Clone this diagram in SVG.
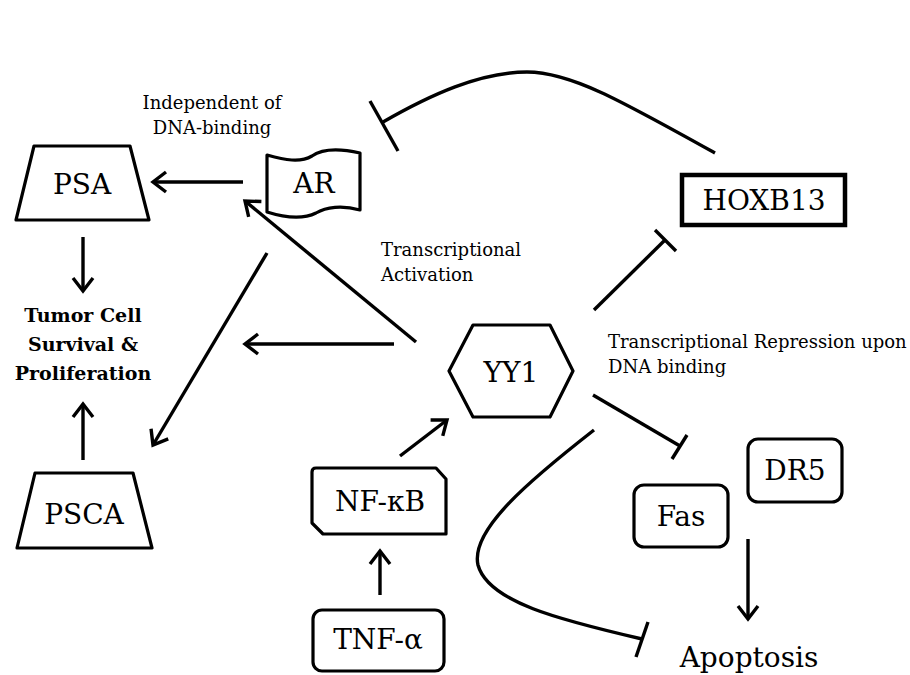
<svg xmlns="http://www.w3.org/2000/svg" width="910" height="675" viewBox="0 0 910 675">
<defs>
<style>
.node{fill:#fff;stroke:#000;stroke-width:3.2;stroke-linejoin:round}
.lbl{font-family:"DejaVu Serif","Liberation Serif",serif;font-size:28px;fill:#000;text-anchor:middle;dominant-baseline:central}
.note{font-family:"DejaVu Serif","Liberation Serif",serif;font-size:18px;fill:#000}
.bold{font-family:"DejaVu Serif","Liberation Serif",serif;font-size:19px;font-weight:bold;fill:#000;text-anchor:middle}
.edge{fill:none;stroke:#000;stroke-width:3.4}
</style>
<marker id="arr" markerUnits="userSpaceOnUse" viewBox="-16 -12 20 24" refX="0" refY="0" markerWidth="20" markerHeight="24" orient="auto" overflow="visible">
<path d="M-13,-10 L0,0 L-13,10" fill="none" stroke="#000" stroke-width="3.4" stroke-linejoin="miter"/>
</marker>
</defs>
<rect width="910" height="675" fill="#fff"/>

<g id="connectors">
<line class="edge" x1="243" y1="182" x2="153" y2="182" marker-end="url(#arr)"/>
<line class="edge" x1="416" y1="342" x2="245" y2="201" marker-end="url(#arr)"/>
<line class="edge" x1="394" y1="344" x2="245" y2="344" marker-end="url(#arr)"/>
<line class="edge" x1="267" y1="253" x2="153" y2="445" marker-end="url(#arr)"/>
<line class="edge" x1="83" y1="237" x2="83" y2="291" marker-end="url(#arr)"/>
<line class="edge" x1="83" y1="460" x2="83" y2="404" marker-end="url(#arr)"/>
<line class="edge" x1="400" y1="456" x2="447" y2="420" marker-end="url(#arr)"/>
<line class="edge" x1="380" y1="595" x2="380" y2="551" marker-end="url(#arr)"/>
<line class="edge" x1="748" y1="539" x2="748" y2="619" marker-end="url(#arr)"/>
<path class="edge" d="M715,153 C620,100 570,72 527,72 C480,72 430,95 383,122"/>
<line class="edge" x1="370" y1="101" x2="398" y2="151"/>
<line class="edge" x1="594" y1="310" x2="665" y2="240"/>
<line class="edge" x1="655" y1="230" x2="676" y2="251"/>
<line class="edge" x1="593" y1="395" x2="680" y2="446"/>
<line class="edge" x1="687" y1="435" x2="672" y2="459"/>
<path class="edge" d="M594,430 C530,480 470,530 478,565 C488,602 560,620 642,639"/>
<line class="edge" x1="648" y1="622" x2="636" y2="657"/>
</g>

<g id="psa">
<path class="node" d="M34,146 L130,146 L149,220 L16,220 Z"/>
<text class="lbl" x="82" y="184">PSA</text>
</g>

<g id="ar">
<path class="node" d="M267,155 C285,160 300,163 312,156 C322,149 338,148 360,153 L360,210 C342,205 326,207 316,213 C304,219 286,218 267,212 Z"/>
<text class="lbl" x="314" y="183">AR</text>
</g>

<g id="note-independent">
<text class="note" x="212" y="109" text-anchor="middle">Independent of</text>
<text class="note" x="212" y="134" text-anchor="middle">DNA-binding</text>
</g>

<g id="hoxb13">
<rect x="682" y="175" width="163" height="50" fill="#fff" stroke="#000" stroke-width="4.5"/>
<text class="lbl" x="764" y="200">HOXB13</text>
</g>

<g id="tumor">
<text class="bold" x="83" y="322">Tumor Cell</text>
<text class="bold" x="83" y="351">Survival &amp;</text>
<text class="bold" x="83" y="380">Proliferation</text>
</g>

<g id="note-activation">
<text class="note" x="381" y="256">Transcriptional</text>
<text class="note" x="381" y="281">Activation</text>
</g>

<g id="yy1">
<path class="node" d="M449,371 L473,325 L550,325 L573,371 L550,417 L473,417 Z"/>
<text class="lbl" x="511" y="372">YY1</text>
</g>

<g id="note-repression">
<text class="note" x="608" y="348">Transcriptional Repression upon</text>
<text class="note" x="608" y="373">DNA binding</text>
</g>

<g id="psca">
<path class="node" d="M35,473 L133,473 L152,548 L17,548 Z"/>
<text class="lbl" x="84" y="514">PSCA</text>
</g>

<g id="nfkb">
<path class="node" d="M316,468 L436,468 L446,479 L446,534 L323,534 L312,523 L312,472 Q312,468 316,468 Z"/>
<text class="lbl" x="380" y="501">NF-κB</text>
</g>

<g id="tnf">
<rect class="node" x="313" y="610" width="131" height="61" rx="9"/>
<text class="lbl" x="378" y="639">TNF-α</text>
</g>

<g id="fas">
<rect class="node" x="634" y="485" width="94" height="62" rx="10"/>
<text class="lbl" x="681" y="516">Fas</text>
</g>

<g id="dr5">
<rect class="node" x="748" y="439" width="94" height="63" rx="10"/>
<text class="lbl" x="795" y="470">DR5</text>
</g>

<g id="apoptosis">
<text class="lbl" x="749" y="657">Apoptosis</text>
</g>
</svg>
